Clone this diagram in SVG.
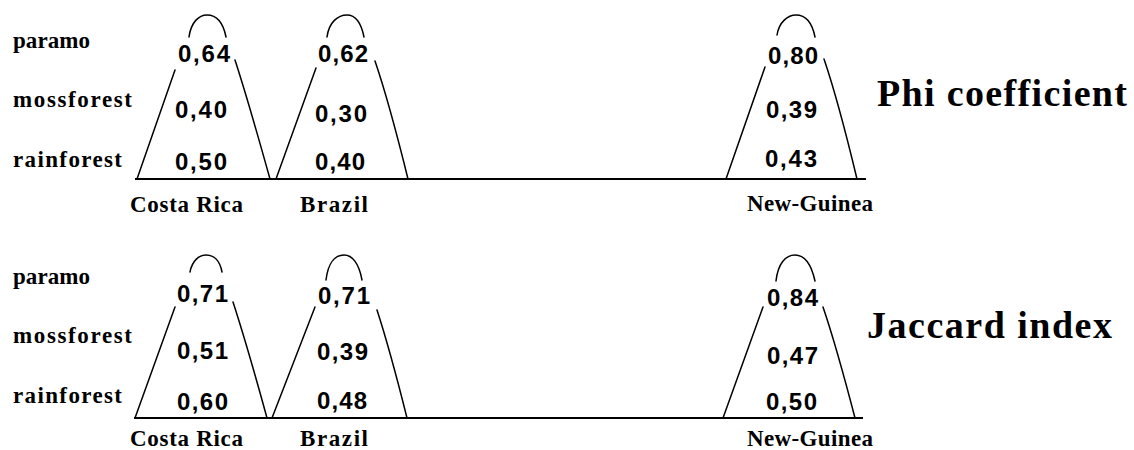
<svg xmlns="http://www.w3.org/2000/svg" width="1134" height="450" viewBox="0 0 1134 450">
<style>
.m{fill:none;stroke:#000;stroke-width:1.5;stroke-linecap:round}
.ln{stroke:#000;stroke-width:2}
.n{font-family:"Liberation Sans",Arial,sans-serif;font-weight:bold;font-size:24px;fill:#000}
.l{font-family:"Liberation Serif","Times New Roman",serif;font-weight:bold;font-size:23px;fill:#000}
.t{font-family:"Liberation Serif","Times New Roman",serif;font-weight:bold;font-size:38px;fill:#000}
</style>
<rect width="1134" height="450" fill="#fff"/>
<g id="connectors">
<line class="ln" x1="135" y1="179" x2="866" y2="179"/>
<line class="ln" x1="134" y1="418" x2="863" y2="418"/>
</g>
<g id="top-panel">
<g id="top-rows">
<text class="l" x="13" y="48" textLength="77">paramo</text>
<text class="l" x="13" y="107" textLength="119">mossforest</text>
<text class="l" x="13" y="167" textLength="109">rainforest</text>
</g>
<g id="top-costa-rica">
<path class="m" d="M137,179 L175,70 M189,37 C191,22 199,15 207,15 C216,15 223,22 226,37 M235,60 Q248,100 270,179"/>
<text class="n" x="178" y="62" textLength="52">0,64</text>
<text class="n" x="175" y="118" textLength="52">0,40</text>
<text class="n" x="175" y="170" textLength="52">0,50</text>
<text class="l" x="130" y="212" textLength="113">Costa Rica</text>
</g>
<g id="top-brazil">
<path class="m" d="M276,179 L316,68 M327,37 C329,22 338,15 347,15 C355,15 361,22 364,37 M375,61 Q389,102 408,179"/>
<text class="n" x="318" y="62" textLength="50">0,62</text>
<text class="n" x="315" y="122" textLength="52">0,30</text>
<text class="n" x="315" y="170" textLength="50">0,40</text>
<text class="l" x="300" y="212" textLength="68">Brazil</text>
</g>
<g id="top-new-guinea">
<path class="m" d="M726,179 L765,67 M777,35 C779,22 788,15 796,15 C805,15 812,22 815,37 M824,59 Q838,100 857,179"/>
<text class="n" x="768" y="64" textLength="50">0,80</text>
<text class="n" x="766" y="118" textLength="51">0,39</text>
<text class="n" x="765" y="167" textLength="52">0,43</text>
<text class="l" x="747" y="211" textLength="126">New-Guinea</text>
</g>
<text id="phi" class="t" x="877" y="106" textLength="250">Phi coefficient</text>
</g>
<g id="bottom-panel">
<g id="bottom-rows">
<text class="l" x="13" y="284" textLength="77">paramo</text>
<text class="l" x="13" y="343" textLength="119">mossforest</text>
<text class="l" x="13" y="403" textLength="109">rainforest</text>
</g>
<g id="bottom-costa-rica">
<path class="m" d="M135,418 L175,307 M190,272 C192,261 199,255 206,255 C214,255 220,261 222,272 M233,302 Q247,345 267,418"/>
<text class="n" x="177" y="302" textLength="51">0,71</text>
<text class="n" x="177" y="359" textLength="51">0,51</text>
<text class="n" x="177" y="410" textLength="51">0,60</text>
<text class="l" x="130" y="446" textLength="113">Costa Rica</text>
</g>
<g id="bottom-brazil">
<path class="m" d="M272,418 L315,307 M326,280 C328,263 335,255 344,255 C352,255 359,263 362,280 M377,310 Q390,350 407,418"/>
<text class="n" x="318" y="304" textLength="52">0,71</text>
<text class="n" x="317" y="360" textLength="51">0,39</text>
<text class="n" x="317" y="409" textLength="50">0,48</text>
<text class="l" x="300" y="446" textLength="68">Brazil</text>
</g>
<g id="bottom-new-guinea">
<path class="m" d="M723,418 L763,307 M776,281 C778,263 786,255 795,255 C804,255 811,263 815,281 M823,307 Q836,345 855,418"/>
<text class="n" x="767" y="306" textLength="51">0,84</text>
<text class="n" x="767" y="364" textLength="51">0,47</text>
<text class="n" x="766" y="410" textLength="51">0,50</text>
<text class="l" x="747" y="446" textLength="126">New-Guinea</text>
</g>
<text id="jaccard" class="t" x="867" y="338" textLength="245">Jaccard index</text>
</g>
</svg>
